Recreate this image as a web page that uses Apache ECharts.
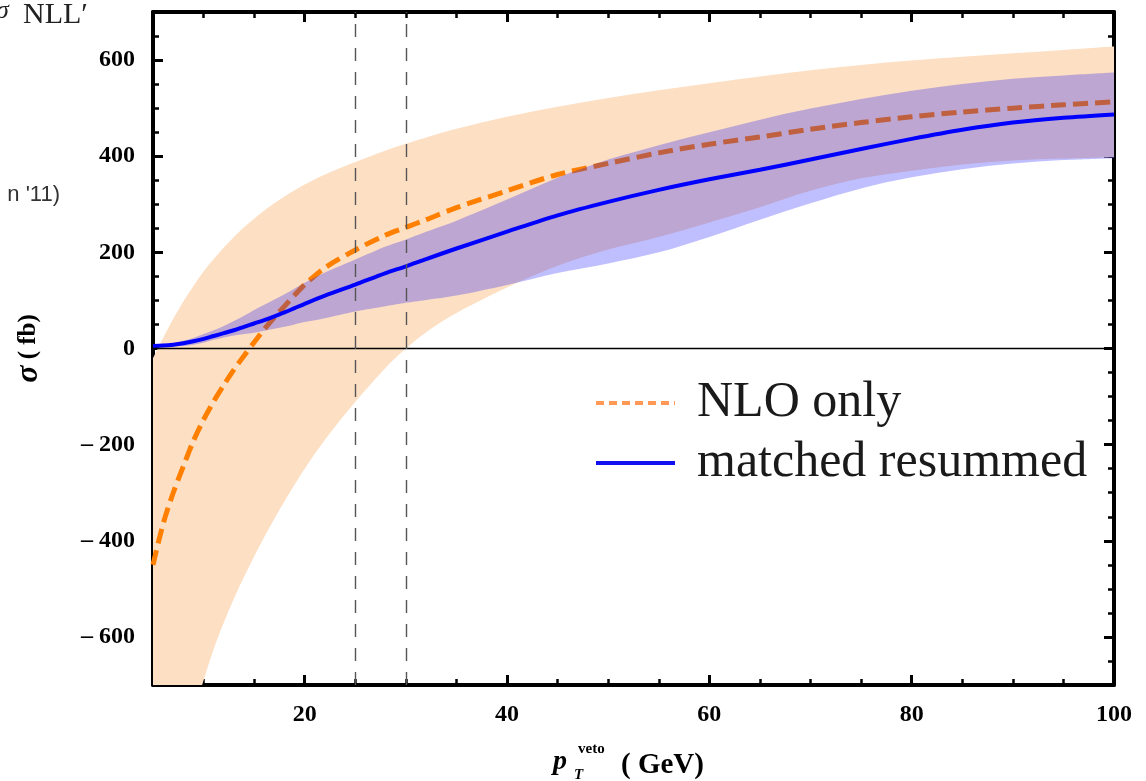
<!DOCTYPE html>
<html><head><meta charset="utf-8">
<script src="https://cdn.jsdelivr.net/npm/echarts@6/dist/echarts.min.js"></script>
<style>html,body{margin:0;padding:0;background:#fff}#c{width:1146px;height:781px}</style>
</head><body><div id="c"></div>
<script>
// ---- data ----
const ptVeto     = [5,6,7,8,9,10,11,12,13,14,15,16,17,18,19,20,22,25,28,30,32,35,40,45,50,55,60,65,70,75,80,85,90,95,100];
const nloCentral = [-450,-365,-300,-245,-192,-148,-110,-76,-44,-15,13,40,65,88,111,133,168,205,236,252,268,293,328,362,385,407,425,440,456,470,482,492,500,507,513];
const nloUpper   = [-20,22,62,98,130,160,186,210,232,252,270,287,302,316,329,341,362,388,412,426,439,457,482,503,521,537,552,566,579,590,599,607,614,621,628];
const nloLower   = [-1150,-1030,-930,-840,-760,-690,-625,-570,-520,-475,-432,-392,-354,-318,-283,-250,-190,-111,-40,0,34,74,127,172,206,232,262,294,328,354,370,383,391,395,398];
const resCentral = [5,6,8,11,15,20,26,32,38,45,52,59,67,75,84,93,110,133,157,171,186,208,243,277,305,330,352,372,393,415,436,455,470,480,487];
const resUpper   = [6,8,11,16,22,30,38,47,57,68,80,91,102,113,125,137,158,185,212,227,243,266,310,355,393,423,450,476,499,519,536,550,561,568,574];
const resLower   = [4,4,4,5,8,12,18,23,27,30,33,37,41,45,50,55,63,77,88,95,101,110,132,157,177,200,232,268,302,333,356,373,385,392,396];
const xLabelValues = [20,40,60,80,100];
const xMajorTicks  = [20,40,60,80];
const yLabelValues = [-600,-400,-200,0,200,400,600];
const vetoCuts     = [25,30];
const seriesNames  = ['NLO only','matched resummed'];

const serif = 'Liberation Serif';
const chart = echarts.init(document.getElementById('c'));

// smooth (Catmull-Rom) path through screen points
function splinePath(pts, moveFirst){
  let d = (moveFirst ? 'M' : 'L') + pts[0][0] + ' ' + pts[0][1];
  for (let i = 0; i < pts.length - 1; i++){
    const p0 = pts[Math.max(i - 1, 0)], p1 = pts[i], p2 = pts[i + 1], p3 = pts[Math.min(i + 2, pts.length - 1)];
    const c1x = p1[0] + (p2[0] - p0[0]) / 6, c1y = p1[1] + (p2[1] - p0[1]) / 6;
    const c2x = p2[0] - (p3[0] - p1[0]) / 6, c2y = p2[1] - (p3[1] - p1[1]) / 6;
    d += 'C' + c1x + ' ' + c1y + ' ' + c2x + ' ' + c2y + ' ' + p2[0] + ' ' + p2[1];
  }
  return d;
}
function band(upper, lower, color){
  return function(params, api){
    if (params.dataIndex !== 0) return null;
    const up = [], lo = [];
    for (let i = 0; i < ptVeto.length; i++) up.push(api.coord([ptVeto[i], upper[i]]));
    for (let i = ptVeto.length - 1; i >= 0; i--) lo.push(api.coord([ptVeto[i], lower[i]]));
    const cs = params.coordSys;
    return {
      type: 'path', shape: {pathData: splinePath(up, true) + splinePath(lo, false) + 'Z'},
      style: {fill: color},
      clipPath: {type: 'rect', shape: {x: cs.x, y: cs.y, width: cs.width, height: cs.height}}
    };
  };
}
const zip = (ys) => ptVeto.map((x, i) => [x, ys[i]]);

const tickFont = {fontFamily: serif, fontWeight: 'bold', fontSize: 24, color: '#000'};
function xAxisDef(pos, major, withLabels){
  return {
    type: 'value', position: pos, min: 5, max: 100,
    interval: major ? undefined : 5,
    axisLine: {show: major, onZero: false, lineStyle: {color: '#000', width: 4}},
    axisTick: major ? {inside: true, length: 10, customValues: xMajorTicks, lineStyle: {color: '#000', width: 3}}
                    : {inside: true, length: 6, lineStyle: {color: '#000', width: 2.5}},
    axisLabel: withLabels ? Object.assign({show: true, customValues: xLabelValues, margin: 18}, tickFont) : {show: false},
    splitLine: {show: false}
  };
}
function yAxisDef(pos, major, withLabels){
  return {
    type: 'value', position: pos, min: -700, max: 700,
    interval: major ? undefined : 50,
    axisLine: {show: major, onZero: false, lineStyle: {color: '#000', width: 4}},
    axisTick: major ? {inside: true, length: 10, customValues: yLabelValues, lineStyle: {color: '#000', width: 3}}
                    : {inside: true, length: 6, lineStyle: {color: '#000', width: 2.5}},
    axisLabel: withLabels ? Object.assign({show: true, customValues: yLabelValues, margin: 18,
      formatter: v => v < 0 ? '\u2013 ' + Math.abs(v) : String(v)}, tickFont) : {show: false},
    splitLine: {show: false},
    name: withLabels ? '{s|\u03c3}{t| ( fb)}' : '',
    nameLocation: 'middle', nameRotate: 90, nameGap: 108,
    nameTextStyle: {rich: {
      s: {fontFamily: serif, fontWeight: 'bold', fontStyle: 'italic', fontSize: 32, color: '#000'},
      t: {fontFamily: serif, fontWeight: 'bold', fontSize: 25, color: '#000'}
    }}
  };
}

chart.setOption({
  animation: false,
  backgroundColor: '#fff',
  grid: {left: 153, top: 12, right: 32, bottom: 96, containLabel: false},
  xAxis: [xAxisDef('bottom', true, true), xAxisDef('bottom', false, false), xAxisDef('top', true, false), xAxisDef('top', false, false)],
  yAxis: [yAxisDef('left', true, true), yAxisDef('left', false, false), yAxisDef('right', true, false), yAxisDef('right', false, false)],
  legend: {
    left: 589, top: 371, orient: 'vertical', itemWidth: 79, itemHeight: 14, itemGap: 6,
    selectedMode: false,
    textStyle: {fontFamily: serif, fontSize: 50, color: '#1a1a1a', lineHeight: 54, padding: [0, 0, 0, 17]},
    data: [
      {name: seriesNames[0], itemStyle: {color: 'rgba(0,0,0,0)', borderWidth: 0, opacity: 0},
       lineStyle: {color: '#ff9955', width: 4, type: [8, 5]}},
      {name: seriesNames[1], itemStyle: {color: 'rgba(0,0,0,0)', borderWidth: 0, opacity: 0},
       lineStyle: {color: '#1010f0', width: 4, type: 'solid'}}
    ]
  },
  graphic: [
    {type: 'text', left: -4, top: -2, style: {text: '\u03c3', font: 'italic 26px "Liberation Serif"', fill: '#222'}},
    {type: 'text', left: 23, top: 0, style: {text: 'NLL\u2032', font: '30px "Liberation Serif"', fill: '#222'}},
    {type: 'text', right: 1086, top: 184, style: {text: "n '11)", font: '22px "Liberation Sans"', fill: '#333'}},
    {type: 'text', left: 553, top: 748, style: {text: 'p', font: 'italic bold 28px "Liberation Serif"', fill: '#000'}},
    {type: 'text', left: 574, top: 768, style: {text: 'T', font: 'italic bold 15px "Liberation Serif"', fill: '#000'}},
    {type: 'text', left: 578, top: 742, style: {text: 'veto', font: 'bold 15px "Liberation Serif"', fill: '#000'}},
    {type: 'text', left: 621, top: 751, style: {text: '( GeV)', font: 'bold 29px "Liberation Serif"', fill: '#000'}}
  ],
  series: [
    {type: 'custom', name: 'NLO band', silent: true, data: zip(nloUpper), renderItem: band(nloUpper, nloLower, '#fddfc3'), z: 1},
    {type: 'line', name: seriesNames[0], data: zip(nloCentral), showSymbol: false, symbol: 'none', smooth: 0.3,
     itemStyle: {color: '#ff8000'},
     lineStyle: {color: '#ff8000', width: 5, type: [15, 7]}, z: 2,
     markLine: {silent: true, symbol: ['none', 'none'], label: {show: false}, animation: false,
       data: [
         {yAxis: 0, lineStyle: {type: 'solid', color: '#000', width: 1.3}},
         {xAxis: vetoCuts[0], lineStyle: {type: [13, 11], color: '#555', width: 1.4}},
         {xAxis: vetoCuts[1], lineStyle: {type: [13, 11], color: '#555', width: 1.4}}
       ]}},
    {type: 'custom', name: 'resummed band', silent: true, data: zip(resUpper), renderItem: band(resUpper, resLower, 'rgba(0,0,255,0.25)'), z: 3},
    {type: 'line', name: seriesNames[1], data: zip(resCentral), showSymbol: false, symbol: 'none', smooth: 0.3,
     itemStyle: {color: '#0000ff'},
     lineStyle: {color: '#0000ff', width: 4}, z: 4}
  ]
});
</script></body></html>
